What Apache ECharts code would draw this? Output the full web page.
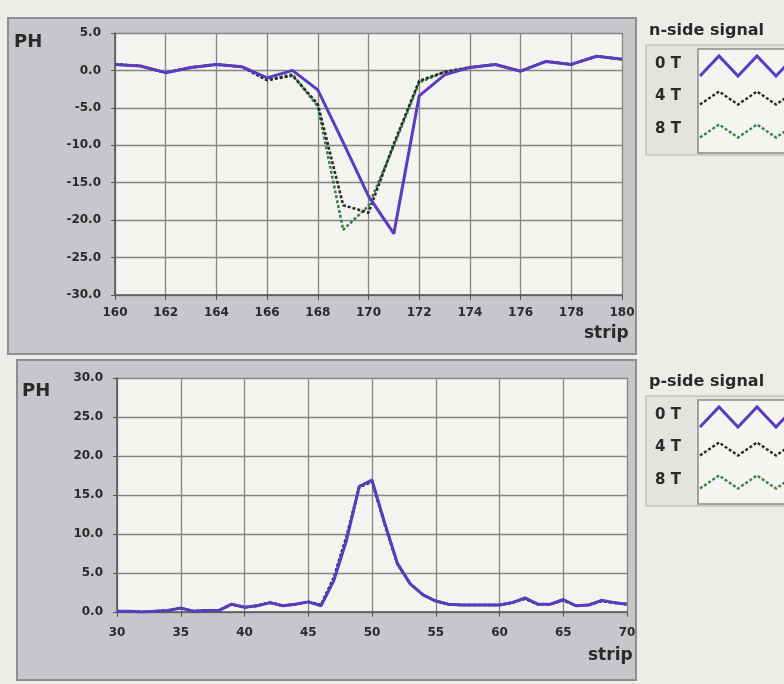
<!DOCTYPE html>
<html>
<head>
<meta charset="utf-8">
<script src="https://cdn.jsdelivr.net/npm/echarts@6/dist/echarts.min.js"></script>
<style>
html,body{margin:0;padding:0;background:#ecece9;}
#chart{width:784px;height:684px;}
</style>
</head>
<body>
<div id="chart"></div>
<script>
// n-side signal, strips 160..180
var nStrips = [160,161,162,163,164,165,166,167,168,169,170,171,172,173,174,175,176,177,178,179,180];
var n0T = [0.8,0.6,-0.3,0.4,0.8,0.5,-1.0,0.0,-2.6,-9.6,-16.8,-21.8,-3.4,-0.6,0.4,0.8,-0.1,1.2,0.8,1.9,1.5];
var n4T = [0.8,0.6,-0.3,0.4,0.8,0.5,-1.3,-0.7,-4.5,-18.0,-19.0,-9.8,-1.4,-0.2,0.4,0.8,-0.1,1.2,0.8,1.9,1.5];
var n8T = [0.8,0.6,-0.3,0.4,0.8,0.5,-1.3,-0.5,-4.8,-21.3,-18.1,-10.1,-1.6,-0.2,0.4,0.8,-0.1,1.2,0.8,1.9,1.5];

// p-side signal, strips 30..70
var pStrips = [30,31,32,33,34,35,36,37,38,39,40,41,42,43,44,45,46,47,48,49,50,
               51,52,53,54,55,56,57,58,59,60,61,62,63,64,65,66,67,68,69,70];
var p0T = [0.1,0.1,0.0,0.1,0.2,0.5,0.1,0.2,0.2,1.0,0.6,0.8,1.2,0.8,1.0,1.3,0.8,4.0,9.2,16.1,16.9,
           11.4,6.2,3.6,2.2,1.4,1.0,0.9,0.9,0.9,0.9,1.2,1.8,1.0,1.0,1.6,0.8,0.9,1.5,1.2,1.0];
var p4T = [0.1,0.1,0.0,0.1,0.2,0.5,0.1,0.2,0.2,1.0,0.6,0.8,1.2,0.8,1.0,1.3,0.9,4.4,9.7,16.0,16.7,
           11.2,6.1,3.6,2.2,1.4,1.0,0.9,0.9,0.9,0.9,1.2,1.7,1.0,1.0,1.5,0.8,0.9,1.4,1.2,1.0];
var p8T = [0.1,0.1,0.0,0.1,0.2,0.5,0.1,0.2,0.2,1.0,0.6,0.8,1.2,0.8,1.0,1.3,0.9,4.2,9.5,16.0,16.8,
           11.3,6.2,3.6,2.2,1.4,1.0,0.9,0.9,0.9,0.9,1.2,1.7,1.0,1.0,1.5,0.8,0.9,1.4,1.2,1.0];

var legendNames = ['0 T','4 T','8 T'];
var colors = ['#5a3cc0','#2a2a2a','#3f7f4a'];

function pairs(xs, ys){
	var out = [];
	for (var i = 0; i < xs.length; i++) out.push([xs[i], ys[i]]);
	return out;
}

var lblFont = {color:'#2a2a2a',fontFamily:'DejaVu Sans',fontWeight:'bold',fontSize:12};

function xAx(idx,min,max,interval,margin){
	return {
		type:'value', gridIndex:idx, min:min, max:max, interval:interval,
		axisLine:{show:true,onZero:false,lineStyle:{color:'#555',width:1.5}},
		axisTick:{show:true,length:5,lineStyle:{color:'#555'}},
		axisLabel:Object.assign({margin:margin,formatter:function(v){return v.toFixed(0);}},lblFont),
		splitLine:{show:true,lineStyle:{color:'#858585',width:1.3}}
	};
}
function yAx(idx,min,max,interval){
	return {
		type:'value', gridIndex:idx, min:min, max:max, interval:interval,
		axisLine:{show:true,onZero:false,lineStyle:{color:'#555',width:1.5}},
		axisTick:{show:true,length:4,lineStyle:{color:'#555'}},
		axisLabel:Object.assign({margin:14,formatter:function(v){return v.toFixed(1);}},lblFont),
		splitLine:{show:true,lineStyle:{color:'#858585',width:1.3}}
	};
}

function line(name,data,xi,color,dashed,z){
	return {
		name:name, type:'line', xAxisIndex:xi, yAxisIndex:xi, data:data,
		showSymbol:false, symbol:'none', z:z,
		lineStyle:{color:color,width:dashed?2.6:3,type:dashed?[3,2]:'solid'}
	};
}

// legend box drawing
function legendBox(title,top){
	var els = [];
	els.push({type:'rect',shape:{x:646,y:top+13,width:150,height:110},
		style:{fill:'#e3e3e0',stroke:'#b0b0b0',lineWidth:1},z:50});
	els.push({type:'rect',shape:{x:698,y:top+17,width:100,height:104},
		style:{fill:'#f4f4f0',stroke:'#8a8a8a',lineWidth:1.5},z:51});
	els.push({type:'text',left:649,top:top-9,z:52,
		style:{text:title,fill:'#2a2a2a',font:'bold 16px "DejaVu Sans"'}});
	var rows = [top+34, top+66, top+99];
	for (var i = 0; i < 3; i++){
		var cy = rows[i];
		els.push({type:'text',left:655,top:cy-9,z:52,
			style:{text:legendNames[i],fill:'#2a2a2a',font:'bold 15px "DejaVu Sans"'}});
		var amp = i === 0 ? 10 : 6.5;
		var pts = [];
		var xs = [700,719,738,757,776,795];
		for (var k = 0; k < xs.length; k++) pts.push([xs[k], cy + (k % 2 === 0 ? amp : -amp)]);
		els.push({type:'polyline',shape:{points:pts},z:53,
			style:{fill:null,stroke:colors[i],lineWidth:i===0?3:2.4,lineDash:i===0?null:[3,2]}});
	}
	return els;
}

var graphics = [
	{type:'rect',shape:{x:8,y:18,width:628,height:336},style:{fill:'#c6c7cb',stroke:'#8e8e92',lineWidth:2},z:-10},
	{type:'rect',shape:{x:17,y:360,width:619,height:320},style:{fill:'#c6c7cb',stroke:'#8e8e92',lineWidth:2},z:-10},
	{type:'text',left:14,top:33,style:{text:'PH',fill:'#2a2a2a',font:'bold 18px "DejaVu Sans"'}},
	{type:'text',left:22,top:382,style:{text:'PH',fill:'#2a2a2a',font:'bold 18px "DejaVu Sans"'}},
	{type:'text',left:584,top:325,style:{text:'strip',fill:'#2a2a2a',font:'bold 17px "DejaVu Sans"'}},
	{type:'text',left:588,top:647,style:{text:'strip',fill:'#2a2a2a',font:'bold 17px "DejaVu Sans"'}}
].concat(legendBox('n-side signal',32)).concat(legendBox('p-side signal',383));

var option = {
	backgroundColor:'#ecece9',
	animation:false,
	grid:[
		{left:115,top:33,width:507,height:262,show:true,backgroundColor:'#f3f3ef',borderWidth:0},
		{left:117,top:378,width:510,height:234,show:true,backgroundColor:'#f3f3ef',borderWidth:0}
	],
	xAxis:[xAx(0,160,180,2,12), xAx(1,30,70,5,15)],
	yAxis:[yAx(0,-30,5,5), yAx(1,0,30,5)],
	graphic:graphics,
	series:[
		line('8 T',pairs(nStrips,n8T),0,colors[2],true,3),
		line('4 T',pairs(nStrips,n4T),0,colors[1],true,4),
		line('0 T',pairs(nStrips,n0T),0,colors[0],false,5),
		line('8 T',pairs(pStrips,p8T),1,colors[2],true,3),
		line('4 T',pairs(pStrips,p4T),1,colors[1],true,4),
		line('0 T',pairs(pStrips,p0T),1,colors[0],false,5)
	]
};

var chart = echarts.init(document.getElementById('chart'));
chart.setOption(option);
</script>
</body>
</html>
